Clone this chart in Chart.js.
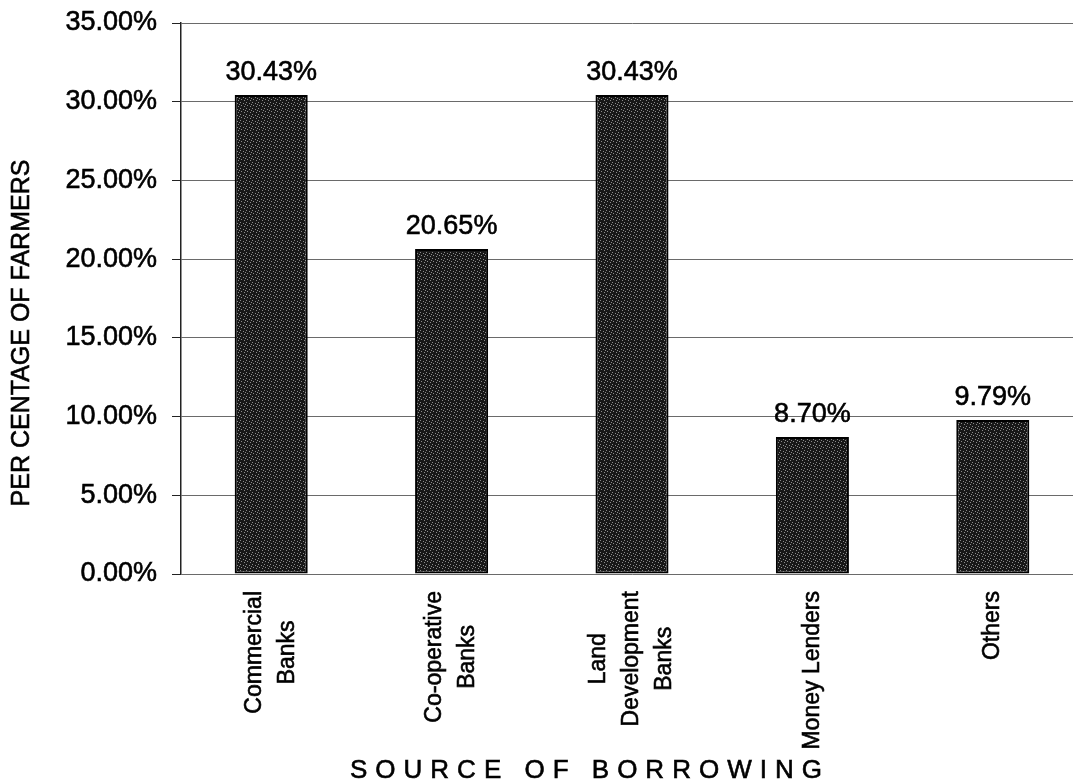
<!DOCTYPE html>
<html>
<head>
  <meta charset="UTF-8">
  <title>Source of Borrowing</title>
  <style type="text/css">
    html, body { margin: 0; padding: 0; background: #fff; overflow: hidden; }
    #chart-container { width: 1090px; height: 779px; }
  </style>
  <script type="text/javascript" src="https://cdn.jsdelivr.net/npm/chart.js@4.4.1/dist/chart.umd.min.js"></script>
</head>
<body>
<div id="chart-container">
  <canvas id="mycanvas" width="1090" height="779"></canvas>
</div>

<script>
// borrowing sources (each entry = lines of the rotated label)
var sources = [
  ['Commercial', 'Banks'],
  ['Co-operative', 'Banks'],
  ['Land', 'Development', 'Banks'],
  ['Money Lenders'],
  ['Others']
];
var farmerShare = [30.43, 20.65, 30.43, 8.70, 9.79];
var yTicks = [0, 5, 10, 15, 20, 25, 30, 35];

var FONT = '"Liberation Sans", Arial, sans-serif';
var INK = 0.6; // slight stroke so text reads as heavy as printed type

// dark stippled fill for the bars
function barPattern() {
  var c = document.createElement('canvas');
  c.width = 6; c.height = 6;
  var g = c.getContext('2d');
  g.fillStyle = '#181818';
  g.fillRect(0, 0, 6, 6);
  g.fillStyle = '#8a8a8a';
  var dots = [[0, 0], [3, 1], [1, 3], [4, 4], [5, 2]];
  dots.forEach(function (d) { g.fillRect(d[0], d[1], 1, 1); });
  return g.createPattern(c, 'repeat');
}

function ink(ctx, text, x, y) {
  ctx.fillText(text, x, y);
  ctx.strokeText(text, x, y);
}

// value labels, rotated category labels and axis titles
var annotate = {
  id: 'annotate',
  afterDatasetsDraw: function (chart) {
    var ctx = chart.ctx;
    var xs = chart.scales.x;
    var area = chart.chartArea;
    ctx.save();
    ctx.fillStyle = '#000';
    ctx.strokeStyle = '#000';
    ctx.lineWidth = INK;

    // values above bars
    ctx.font = '27px ' + FONT;
    ctx.textAlign = 'center';
    ctx.textBaseline = 'alphabetic';
    chart.getDatasetMeta(0).data.forEach(function (bar, i) {
      ink(ctx, farmerShare[i].toFixed(2) + '%', bar.x, bar.y - 15);
    });

    // category labels, rotated, block top-aligned, lines centred
    ctx.font = '23px ' + FONT;
    ctx.textBaseline = 'middle';
    var lineGap = 33;
    sources.forEach(function (lines, i) {
      var cx = xs.getPixelForValue(i);
      var maxW = 0;
      lines.forEach(function (l) { maxW = Math.max(maxW, ctx.measureText(l).width); });
      var midY = area.bottom + 17 + maxW / 2;
      lines.forEach(function (l, k) {
        var off = (k - (lines.length - 1) / 2) * lineGap;
        ctx.save();
        ctx.translate(cx + off, midY);
        ctx.rotate(-Math.PI / 2);
        ctx.textAlign = 'center';
        ink(ctx, l, 0, 0);
        ctx.restore();
      });
    });

    // y axis title
    ctx.font = '25px ' + FONT;
    ctx.save();
    ctx.translate(22, 333);
    ctx.rotate(-Math.PI / 2);
    ctx.textAlign = 'center';
    ink(ctx, 'PER CENTAGE OF FARMERS', 0, 0);
    ctx.restore();

    // x axis title
    ctx.font = '26px ' + FONT;
    ctx.letterSpacing = '8px';
    ctx.textAlign = 'left';
    ctx.textBaseline = 'alphabetic';
    ink(ctx, 'SOURCE OF BORROWING', 350, 778);
    ctx.restore();
  }
};

var ctx = document.getElementById('mycanvas').getContext('2d');
new Chart(ctx, {
  type: 'bar',
  data: {
    labels: sources,
    datasets: [{
      data: farmerShare,
      backgroundColor: barPattern(),
      borderColor: '#000',
      borderWidth: 2,
      borderSkipped: false,
      categoryPercentage: 1,
      barPercentage: 0.405
    }]
  },
  options: {
    responsive: false,
    animation: false,
    events: [],
    layout: { padding: { top: 23, right: 7, left: 0, bottom: 0 } },
    plugins: {
      legend: { display: false },
      tooltip: { enabled: false }
    },
    scales: {
      x: {
        grid: { display: false, drawTicks: false },
        border: { display: false },
        ticks: { display: false },
        afterFit: function (s) { s.height = 205; }
      },
      y: {
        min: 0,
        max: 35,
        afterBuildTicks: function (s) {
          s.ticks = yTicks.map(function (v) { return { value: v }; });
        },
        grid: {
          color: '#6a6a6a',
          lineWidth: 1,
          tickLength: 9,
          tickColor: '#222'
        },
        border: { display: true, color: '#222', width: 1.5 },
        ticks: {
          padding: 15,
          color: '#000',
          textStrokeColor: '#000',
          textStrokeWidth: INK,
          font: { family: FONT, size: 27 },
          callback: function (v) { return v.toFixed(2) + '%'; }
        },
        afterFit: function (s) {
          s.width = 181;
          s.paddingTop = 0;
          s.paddingBottom = 0;
        }
      }
    }
  },
  plugins: [annotate]
});
</script>
</body>
</html>
